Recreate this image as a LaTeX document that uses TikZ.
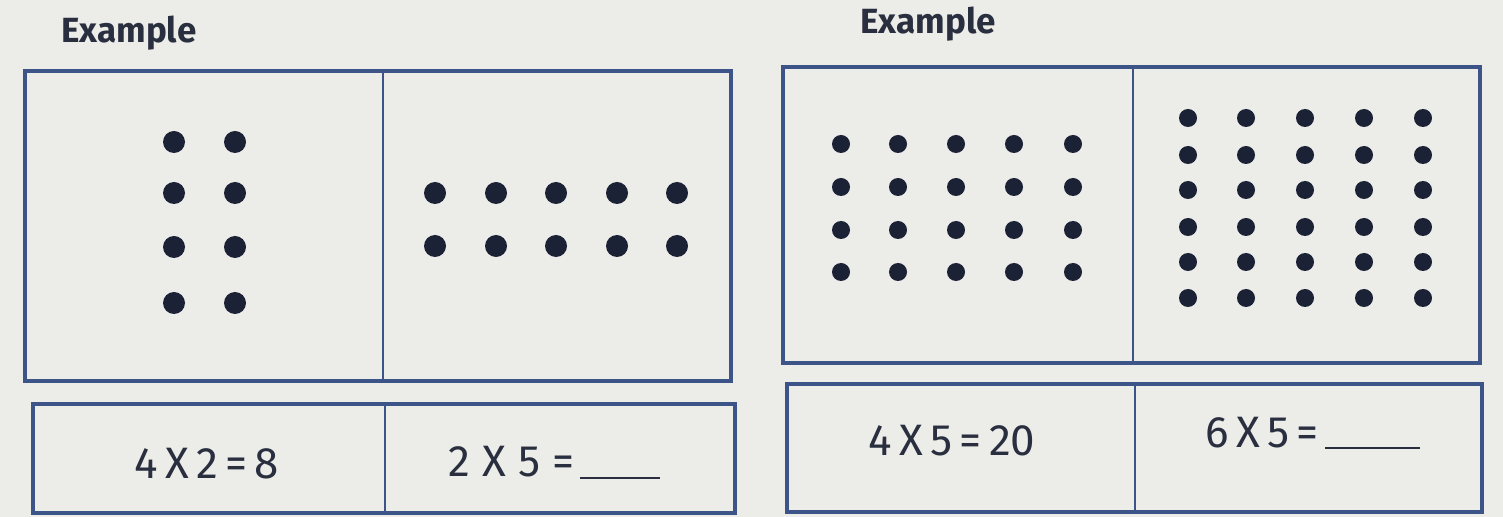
\documentclass[tikz,border=0pt]{standalone}
\usepackage{fontspec}
\setmainfont{Fira Sans}
\definecolor{paper}{HTML}{ECECE8}
\definecolor{frame}{HTML}{3D5488}
\definecolor{ink}{HTML}{1C2236}
\definecolor{txt}{HTML}{2A2F40}
\tikzset{
  box/.style={draw=frame, line width=2.1pt},
  divider/.style={draw=frame, line width=1.4pt},
  dot/.style={circle, fill=ink, inner sep=0pt, minimum size=#1},
  dot/.default=11pt,
  eq/.style={font=\fontsize{22}{25}\selectfont, text=txt, inner sep=0pt},
  ttl/.style={font=\bfseries\fontsize{17.5}{20}\selectfont, text=txt, inner sep=0pt},
  blank/.style={draw=txt, line width=1.2pt}
}
\begin{document}
\begin{tikzpicture}[x=0.5pt, y=-0.5pt]
\fill[paper] (0,0) rectangle (1503,517);
\useasboundingbox (0,0) rectangle (1503,517);
% ---------- left panel ----------
\node[ttl] (ex1) at (129,33) {Example};
\draw[box] (25,71) rectangle (731,381);
\draw[divider] (383,71) -- (383,381);
\draw[box] (33,404) rectangle (735,513);
\draw[divider] (385,404) -- (385,513);
\foreach \r/\y in {1/142,2/193,3/247,4/303}{
  \node[dot] (a\r1) at (174,\y) {};
  \node[dot] (a\r2) at (235,\y) {};
}
\foreach \c/\x in {1/435,2/496,3/556,4/617,5/677}{
  \node[dot] (b1\c) at (\x,193) {};
  \node[dot] (b2\c) at (\x,246) {};
}
\node[eq] (e1) at (207,464) {4\,X\,2\,=\,8};
\node[eq, anchor=west] (e2) at (448,462) {2\;X\;5\;=};
\coordinate (l2a) at (580,478);
\coordinate (l2b) at (660,478);
\draw[blank] (l2a) -- (l2b);
% ---------- right panel ----------
\node[ttl] (ex2) at (928,24) {Example};
\draw[box] (783,67) rectangle (1480,363);
\draw[divider] (1133,67) -- (1133,363);
\draw[box] (787,384) rectangle (1482,512);
\draw[divider] (1135,384) -- (1135,512);
\foreach \r/\y in {1/144,2/187,3/230,4/272}{
  \foreach \c/\x in {1/841,2/898,3/956,4/1014,5/1073}{
    \node[dot=9pt] (c\r\c) at (\x,\y) {};
  }
}
\foreach \r/\y in {1/118,2/155,3/190,4/227,5/262,6/298}{
  \foreach \c/\x in {1/1188,2/1246,3/1305,4/1364,5/1423}{
    \node[dot=9pt] (d\r\c) at (\x,\y) {};
  }
}
\node[eq] (e3) at (952,441) {4\,X\,5\,=\,20};
\node[eq, anchor=west] (e4) at (1205,433) {6\,X\,5\,=};
\coordinate (l4a) at (1325,448);
\coordinate (l4b) at (1420,448);
\draw[blank] (l4a) -- (l4b);
\end{tikzpicture}
\end{document}
